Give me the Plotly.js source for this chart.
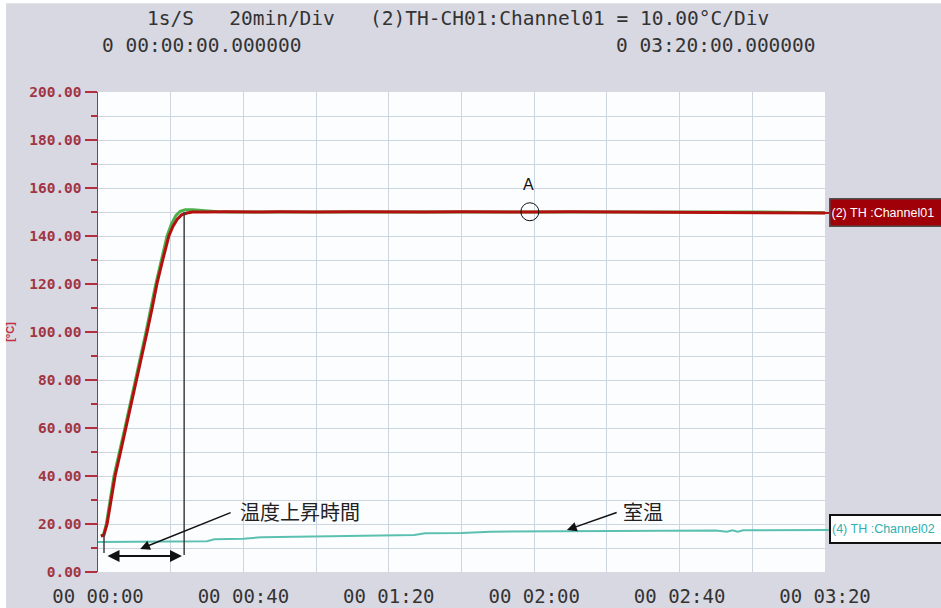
<!DOCTYPE html>
<html>
<head>
<meta charset="utf-8">
<script src="https://cdn.plot.ly/plotly-3.0.1.min.js"></script>
<style>html,body{margin:0;padding:0;background:#d8d8e2;}</style>
</head>
<body>
<div id="chart" style="width:941px;height:608px;"></div>
<script>
// ---- data (time in minutes, temperature in °C) ----
const ch01Time = [0.8, 1.6, 2.5, 3.6, 4.7, 6.2, 7.7, 9.2, 10.7, 12.1, 13.5, 14.9, 16.2, 17.8, 19.5, 20.6, 21.8, 23.0, 24.5, 26, 28, 30, 35, 40, 45, 50, 55, 60, 70, 80, 90, 100, 110, 119, 130, 140, 150, 160, 170, 180, 190, 200];
const ch01Temp = [15.0, 15.3, 20, 30, 40, 50, 60, 70, 80, 90, 100, 110, 120, 130, 140, 144, 147, 148.8, 149.6, 150.0, 150.1, 150.0, 150.1, 149.9, 150.0, 150.1, 149.9, 150.0, 150.1, 149.9, 150.0, 150.1, 149.9, 150.0, 150.1, 150.0, 149.9, 150.0, 149.8, 149.9, 149.7, 149.6];

const ch03Time = [0.8, 1.5, 2.3, 4.4, 7.4, 10.4, 13.2, 15.9, 19.0, 20.2, 21.4, 22.6, 24.0, 26.0, 28.0, 30.0, 33, 36, 40, 60, 80, 100, 120, 140, 160, 180, 200];
const ch03Temp = [15.0, 15.5, 20, 40, 60, 80, 100, 120, 140, 145, 148.5, 150.3, 150.9, 150.9, 150.6, 150.3, 150.1, 150.0, 150.0, 150.0, 150.1, 150.0, 150.1, 150.1, 150.0, 150.0, 149.7];

const ch02Time = [0, 10, 20, 30, 32, 40, 45, 60, 75, 87, 90, 100, 108, 120, 133, 150, 170, 173, 174.5, 176, 177.5, 180, 200];
const ch02Temp = [12.5, 12.6, 12.7, 12.8, 13.6, 13.9, 14.5, 14.8, 15.1, 15.4, 16.1, 16.3, 16.8, 16.9, 17.1, 17.2, 17.3, 16.8, 17.4, 16.8, 17.4, 17.4, 17.5];

const xTickVals = [0, 40, 80, 120, 160, 200];
const xTickText = ['00 00:00', '00 00:40', '00 01:20', '00 02:00', '00 02:40', '00 03:20'];
const yTickVals = [0, 20, 40, 60, 80, 100, 120, 140, 160, 180, 200];
const yTickText = ['0.00', '20.00', '40.00', '60.00', '80.00', '100.00', '120.00', '140.00', '160.00', '180.00', '200.00'];

const headerLine1 = '1s/S\u00a0\u00a0\u00a020min/Div\u00a0\u00a0\u00a0(2)TH-CH01:Channel01\u00a0=\u00a010.00°C/Div';
const headerStart = '0 00:00:00.000000';
const headerEnd = '0 03:20:00.000000';
const label01 = '(2) TH :Channel01';
const label02 = '(4) TH :Channel02';
const riseLabel = '温度上昇時間';
const roomLabel = '室温';

// ---- plot ----
const gridCol = '#cdd5de';
const mono = 'DejaVu Sans Mono';

const traces = [
  {x: ch03Time, y: ch03Temp, type: 'scatter', mode: 'lines', line: {color: '#4cb04c', width: 3}, hoverinfo: 'skip'},
  {x: ch01Time, y: ch01Temp, type: 'scatter', mode: 'lines', line: {color: '#b3100f', width: 3}, hoverinfo: 'skip'},
  {x: ch02Time, y: ch02Temp, type: 'scatter', mode: 'lines', line: {color: '#5cc0b0', width: 2}, hoverinfo: 'skip'}
];

const layout = {
  width: 941, height: 608,
  margin: {l: 98, r: 116, t: 92, b: 36, pad: 0},
  paper_bgcolor: '#d8d8e2',
  plot_bgcolor: '#fcfdff',
  showlegend: false,
  xaxis: {
    range: [0, 200], tickmode: 'array', tickvals: xTickVals, ticktext: xTickText,
    showgrid: true, gridcolor: gridCol, gridwidth: 1, zeroline: false, showline: false, ticks: '',
    minor: {tickmode: 'linear', tick0: 0, dtick: 20, showgrid: true, gridcolor: gridCol, gridwidth: 1, ticks: ''},
    tickfont: {family: mono, size: 19, color: '#333333'}, ticklabelstandoff: 11, fixedrange: true
  },
  yaxis: {
    range: [0, 200], tickmode: 'array', tickvals: yTickVals, ticktext: yTickText,
    showgrid: true, gridcolor: gridCol, gridwidth: 1, zeroline: false,
    showline: true, linecolor: '#d02030', linewidth: 1.5,
    ticks: 'outside', ticklen: 12, tickwidth: 1.5, tickcolor: '#b03040',
    minor: {tickmode: 'linear', tick0: 0, dtick: 10, ticks: 'outside', ticklen: 6, tickwidth: 1.5, tickcolor: '#b03040', showgrid: true, gridcolor: gridCol, gridwidth: 1},
    tickfont: {family: mono, size: 14.5, color: '#a03545', weight: 'bold'},
    title: {text: '[°C]', font: {family: 'Liberation Sans', size: 11, color: '#c03040', weight: 'bold'}, standoff: 12},
    fixedrange: true
  },
  shapes: [
    {type: 'rect', xref: 'paper', yref: 'paper', x0: -0.1348, x1: -0.1265, y0: -0.1, y1: 1.2, fillcolor: '#ffffff', line: {width: 0}, layer: 'below'},
    {type: 'rect', xref: 'paper', yref: 'paper', x0: -0.1348, x1: 1.17, y0: 1.185, y1: 1.2, fillcolor: '#ffffff', line: {width: 0}, layer: 'below'},
    {type: 'line', xref: 'x', yref: 'y', x0: 1.65, x1: 1.65, y0: 7.9, y1: 16, line: {color: '#404040', width: 1.5}},
    {type: 'line', xref: 'x', yref: 'y', x0: 23.7, x1: 23.7, y0: 7.1, y1: 150, line: {color: '#404040', width: 1.5}},
    {type: 'circle', xref: 'x', yref: 'y', xsizemode: 'pixel', ysizemode: 'pixel', xanchor: 118.8, yanchor: 150.1, x0: -9, x1: 9, y0: -9, y1: 9, line: {color: '#111111', width: 1}},
    {type: 'line', xref: 'paper', yref: 'y', x0: 1, x1: 1.008, y0: 149.6, y1: 149.6, line: {color: '#b3100f', width: 2}},
    {type: 'line', xref: 'paper', yref: 'y', x0: 1, x1: 1.008, y0: 17.5, y1: 17.5, line: {color: '#5cc0b0', width: 2}}
  ],
  annotations: [
    {xref: 'paper', yref: 'paper', x: 0.0646, y: 1.154, xanchor: 'left', yanchor: 'middle', text: headerLine1, showarrow: false, font: {family: mono, size: 19.5, color: '#333333'}},
    {xref: 'paper', yref: 'paper', x: 0.0028, y: 1.096, xanchor: 'left', yanchor: 'middle', text: headerStart, showarrow: false, font: {family: mono, size: 19.5, color: '#333333'}},
    {xref: 'paper', yref: 'paper', x: 0.990, y: 1.096, xanchor: 'right', yanchor: 'middle', text: headerEnd, showarrow: false, font: {family: mono, size: 19.5, color: '#333333'}},
    {xref: 'paper', yref: 'y', x: 1.0055, y: 150, xanchor: 'left', yanchor: 'middle', text: label01, showarrow: false, align: 'left', width: 124, height: 24, bgcolor: '#a00008', bordercolor: '#505050', borderwidth: 1.5, font: {family: 'Liberation Sans', size: 12.5, color: '#ffffff'}},
    {xref: 'paper', yref: 'y', x: 1.0055, y: 17.9, xanchor: 'left', yanchor: 'middle', text: label02, showarrow: false, align: 'left', width: 124, height: 24, bgcolor: '#ffffff', bordercolor: '#111111', borderwidth: 2, font: {family: 'Liberation Sans', size: 12.5, color: '#30b0b0'}},
    {xref: 'x', yref: 'y', x: 118.3, y: 161.3, text: 'A', showarrow: false, font: {family: 'Liberation Sans', size: 16, color: '#111111'}},
    {xref: 'x', yref: 'y', x: 55.6, y: 25.1, text: riseLabel, showarrow: false, font: {family: 'Noto Sans CJK JP', size: 20, color: '#222222'}},
    {xref: 'x', yref: 'y', x: 150, y: 25.1, text: roomLabel, showarrow: false, font: {family: 'Noto Sans CJK JP', size: 20, color: '#222222'}},
    {xref: 'x', yref: 'y', axref: 'x', ayref: 'y', x: 11.6, y: 9.6, ax: 36.9, ay: 25, text: '', showarrow: true, arrowhead: 2, arrowsize: 1.3, arrowwidth: 1.5, arrowcolor: '#111111'},
    {xref: 'x', yref: 'y', axref: 'x', ayref: 'y', x: 129, y: 17.5, ax: 143.1, ay: 25, text: '', showarrow: true, arrowhead: 2, arrowsize: 1.3, arrowwidth: 1.5, arrowcolor: '#111111'},
    {xref: 'x', yref: 'y', axref: 'x', ayref: 'y', x: 23.1, y: 6.7, ax: 2.2, ay: 6.7, text: '', showarrow: true, arrowside: 'end+start', arrowhead: 2, startarrowhead: 2, arrowsize: 1.2, startarrowsize: 1.2, arrowwidth: 2, arrowcolor: '#111111'}
  ]
};

Plotly.newPlot('chart', traces, layout, {displayModeBar: false, staticPlot: true});
</script>
</body>
</html>
